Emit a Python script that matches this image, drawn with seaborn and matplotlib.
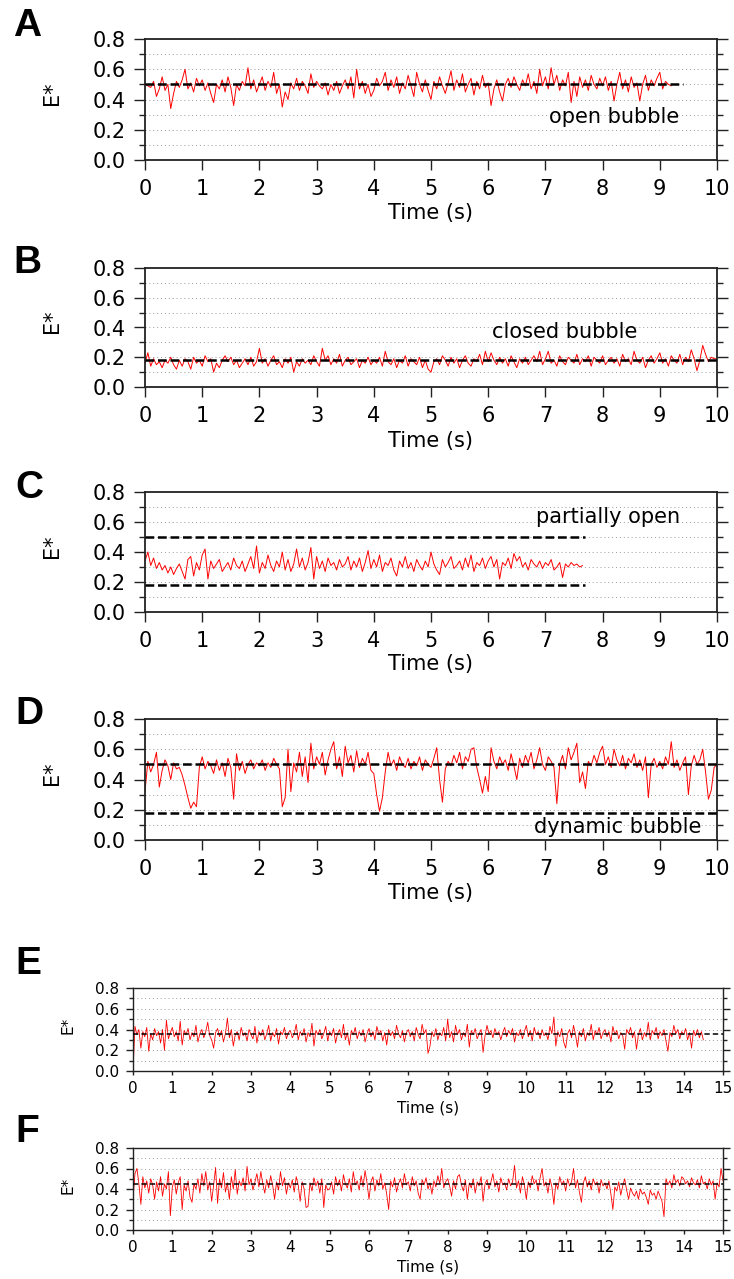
import matplotlib
matplotlib.use("Agg")
import matplotlib.pyplot as plt
import numpy as np
import seaborn as sns
from matplotlib.ticker import MultipleLocator

# sampling interval of every trace (s)
DT = 0.05

# FRET traces, E* values
trace_a = [
    0.50, 0.49, 0.48, 0.52, 0.42, 0.47, 0.55, 0.46, 0.50, 0.34, 0.44, 0.52, 0.48, 0.53, 0.60, 0.47, 0.51, 0.45, 0.54, 0.49,
    0.53, 0.46, 0.51, 0.44, 0.38, 0.50, 0.47, 0.53, 0.45, 0.55, 0.48, 0.36, 0.50, 0.46, 0.52, 0.49, 0.61, 0.47, 0.53, 0.45,
    0.50, 0.55, 0.46, 0.52, 0.48, 0.58, 0.44, 0.50, 0.35, 0.45, 0.40, 0.51, 0.47, 0.54, 0.46, 0.52, 0.49, 0.44, 0.57, 0.48,
    0.52, 0.49, 0.47, 0.51, 0.43, 0.50, 0.46, 0.52, 0.44, 0.49, 0.53, 0.47, 0.55, 0.41, 0.60, 0.47, 0.52, 0.44, 0.50, 0.42,
    0.46, 0.54, 0.49, 0.52, 0.58, 0.46, 0.53, 0.48, 0.55, 0.44, 0.51, 0.47, 0.56, 0.49, 0.42, 0.58, 0.50, 0.45, 0.53, 0.46,
    0.40, 0.52, 0.47, 0.55, 0.49, 0.44, 0.51, 0.59, 0.46, 0.53, 0.48, 0.57, 0.45, 0.50, 0.54, 0.43, 0.52, 0.47, 0.56, 0.48,
    0.51, 0.36, 0.47, 0.53, 0.45, 0.39, 0.50, 0.54, 0.48, 0.55, 0.50, 0.46, 0.53, 0.49, 0.57, 0.47, 0.52, 0.44, 0.60, 0.49,
    0.55, 0.47, 0.61, 0.50, 0.56, 0.46, 0.53, 0.49, 0.58, 0.38, 0.52, 0.42, 0.55, 0.48, 0.53, 0.46, 0.56, 0.50, 0.47, 0.54,
    0.49, 0.55, 0.46, 0.52, 0.39, 0.50, 0.58, 0.47, 0.53, 0.45, 0.55, 0.48, 0.51, 0.39, 0.50, 0.56, 0.46, 0.53, 0.49, 0.54,
    0.58, 0.47, 0.52, 0.50, 0.49,
]

trace_b = [
    0.16, 0.23, 0.14, 0.19, 0.15, 0.17, 0.13, 0.18, 0.16, 0.20, 0.15, 0.12, 0.18, 0.14, 0.19, 0.17, 0.12, 0.20, 0.16, 0.18,
    0.14, 0.21, 0.17, 0.19, 0.10, 0.16, 0.13, 0.18, 0.21, 0.17, 0.20, 0.15, 0.18, 0.13, 0.16, 0.19, 0.15, 0.20, 0.14, 0.17,
    0.26, 0.16, 0.19, 0.14, 0.18, 0.21, 0.15, 0.17, 0.13, 0.19, 0.16, 0.20, 0.10, 0.17, 0.14, 0.19, 0.16, 0.18, 0.15, 0.21,
    0.17, 0.14, 0.26, 0.18, 0.21, 0.15, 0.19, 0.16, 0.22, 0.14, 0.18, 0.20, 0.15, 0.17, 0.19, 0.13, 0.18, 0.16, 0.20, 0.15,
    0.18, 0.16, 0.20, 0.14, 0.24, 0.17, 0.15, 0.19, 0.13, 0.18, 0.16, 0.21, 0.14, 0.19, 0.17, 0.15, 0.20, 0.13, 0.18, 0.12,
    0.10, 0.17, 0.19, 0.15, 0.21, 0.18, 0.14, 0.20, 0.16, 0.19, 0.13, 0.18, 0.21, 0.16, 0.14, 0.19, 0.17, 0.22, 0.15, 0.24,
    0.17, 0.23, 0.18, 0.15, 0.20, 0.16, 0.19, 0.14, 0.21, 0.17, 0.13, 0.19, 0.16, 0.20, 0.15, 0.18, 0.21, 0.17, 0.24, 0.15,
    0.19, 0.24, 0.16, 0.18, 0.14, 0.21, 0.17, 0.15, 0.20, 0.18, 0.16, 0.22, 0.15, 0.19, 0.17, 0.21, 0.14, 0.20, 0.18, 0.16,
    0.21, 0.15, 0.18, 0.20, 0.16, 0.19, 0.14, 0.22, 0.17, 0.19, 0.15, 0.24, 0.18, 0.16, 0.20, 0.13, 0.18, 0.21, 0.16, 0.19,
    0.23, 0.16, 0.19, 0.14, 0.21, 0.18, 0.16, 0.22, 0.15, 0.20, 0.17, 0.25, 0.19, 0.11, 0.18, 0.28, 0.22, 0.17, 0.20, 0.19,
    0.19,
]

trace_c = [
    0.34, 0.40, 0.31, 0.36, 0.29, 0.33, 0.28, 0.31, 0.26, 0.30, 0.25, 0.29, 0.32, 0.27, 0.22, 0.35, 0.37, 0.24, 0.33, 0.28,
    0.38, 0.42, 0.22, 0.34, 0.29, 0.32, 0.35, 0.27, 0.30, 0.33, 0.28, 0.36, 0.31, 0.29, 0.34, 0.27, 0.32, 0.37, 0.29, 0.44,
    0.26, 0.33, 0.29, 0.38, 0.31, 0.27, 0.34, 0.30, 0.40, 0.28, 0.35, 0.27, 0.32, 0.42, 0.30, 0.36, 0.28, 0.33, 0.43, 0.22,
    0.37, 0.29, 0.34, 0.27, 0.36, 0.31, 0.33, 0.28, 0.35, 0.30, 0.32, 0.37, 0.28, 0.34, 0.30, 0.36, 0.27, 0.33, 0.41, 0.29,
    0.35, 0.30, 0.38, 0.27, 0.33, 0.31, 0.36, 0.28, 0.24, 0.34, 0.30, 0.37, 0.29, 0.33, 0.27, 0.35, 0.31, 0.28, 0.34, 0.30,
    0.40, 0.32, 0.28, 0.25, 0.35, 0.30, 0.33, 0.37, 0.29, 0.31, 0.34, 0.28, 0.36, 0.30, 0.38, 0.27, 0.33, 0.31, 0.36, 0.29,
    0.34, 0.37, 0.30, 0.35, 0.22, 0.33, 0.31, 0.36, 0.29, 0.39, 0.34, 0.37, 0.30, 0.33, 0.28, 0.35, 0.32, 0.30, 0.34, 0.29,
    0.33, 0.31, 0.35, 0.28, 0.30, 0.33, 0.23, 0.32, 0.30, 0.33, 0.31, 0.32, 0.30, 0.31,
]

trace_d = [
    0.32, 0.52, 0.45, 0.50, 0.58, 0.35, 0.46, 0.53, 0.49, 0.40, 0.51, 0.47, 0.48, 0.43, 0.36, 0.28, 0.21, 0.25, 0.22, 0.48,
    0.55, 0.47, 0.52, 0.49, 0.44, 0.53, 0.46, 0.51, 0.42, 0.54, 0.48, 0.27, 0.57, 0.46, 0.52, 0.44, 0.50, 0.53, 0.47, 0.51,
    0.49, 0.53, 0.46, 0.51, 0.48, 0.54, 0.50, 0.47, 0.22, 0.28, 0.60, 0.32, 0.51, 0.45, 0.58, 0.42, 0.55, 0.38, 0.64, 0.47,
    0.55, 0.50, 0.58, 0.43, 0.53, 0.60, 0.65, 0.47, 0.55, 0.42, 0.62, 0.51, 0.56, 0.45, 0.59, 0.48, 0.54, 0.50, 0.58, 0.46,
    0.44, 0.30, 0.19, 0.28, 0.45, 0.58, 0.49, 0.53, 0.46, 0.55, 0.50, 0.48, 0.54, 0.47, 0.52, 0.49, 0.55, 0.46, 0.53, 0.50,
    0.48, 0.54, 0.61, 0.40, 0.25, 0.47, 0.52, 0.49, 0.56, 0.51, 0.58, 0.47, 0.55, 0.52, 0.60, 0.61, 0.48, 0.40, 0.31, 0.42,
    0.32, 0.61, 0.52, 0.47, 0.55, 0.50, 0.53, 0.46, 0.57, 0.49, 0.40, 0.54, 0.48, 0.56, 0.51, 0.58, 0.47, 0.53, 0.61, 0.50,
    0.46, 0.55, 0.52, 0.48, 0.24, 0.50, 0.56, 0.47, 0.61, 0.53, 0.58, 0.64, 0.38, 0.45, 0.34, 0.52, 0.49, 0.56, 0.51, 0.58,
    0.62, 0.50, 0.55, 0.48, 0.60, 0.53, 0.49, 0.56, 0.47, 0.54, 0.51, 0.57, 0.48, 0.53, 0.46, 0.55, 0.28, 0.50, 0.54, 0.48,
    0.52, 0.47, 0.55, 0.50, 0.65, 0.48, 0.53, 0.46, 0.51, 0.55, 0.30, 0.49, 0.56, 0.50, 0.53, 0.60, 0.45, 0.27, 0.33, 0.48,
    0.50,
]

trace_e = [
    0.00, 0.43, 0.35, 0.40, 0.22, 0.38, 0.33, 0.42, 0.19, 0.36, 0.30, 0.41, 0.34, 0.38, 0.27, 0.40, 0.20, 0.49, 0.31, 0.37,
    0.42, 0.33, 0.38, 0.29, 0.48, 0.25, 0.39, 0.35, 0.41, 0.30, 0.37, 0.33, 0.44, 0.28, 0.36, 0.40, 0.32, 0.38, 0.47, 0.34,
    0.30, 0.22, 0.37, 0.41, 0.33, 0.39, 0.28, 0.36, 0.51, 0.32, 0.40, 0.24, 0.35, 0.38, 0.30, 0.42, 0.34, 0.37, 0.29, 0.40,
    0.35, 0.31, 0.43, 0.27, 0.38, 0.34, 0.40, 0.30, 0.36, 0.44, 0.29, 0.37, 0.33, 0.41, 0.26, 0.38, 0.35, 0.42, 0.31, 0.37,
    0.39, 0.32, 0.36, 0.45, 0.30, 0.38, 0.34, 0.41, 0.28, 0.37, 0.33, 0.46, 0.24, 0.39, 0.35, 0.40, 0.31, 0.36, 0.43, 0.29,
    0.38, 0.34, 0.41, 0.27, 0.36, 0.40, 0.32, 0.45, 0.30, 0.37, 0.25, 0.39, 0.35, 0.42, 0.31, 0.38, 0.34, 0.40, 0.28, 0.36,
    0.41, 0.33, 0.38, 0.30, 0.43, 0.35, 0.39, 0.29, 0.37, 0.25, 0.40, 0.34, 0.38, 0.31, 0.44, 0.36, 0.32, 0.39, 0.28, 0.37,
    0.40, 0.33, 0.38, 0.29, 0.42, 0.35, 0.31, 0.45, 0.36, 0.40, 0.17, 0.24, 0.38, 0.33, 0.41, 0.30, 0.37, 0.34, 0.42, 0.29,
    0.50, 0.32, 0.38, 0.28, 0.44, 0.35, 0.40, 0.30, 0.37, 0.33, 0.45, 0.23, 0.39, 0.35, 0.41, 0.31, 0.36, 0.40, 0.18, 0.34,
    0.44, 0.36, 0.39, 0.32, 0.41, 0.35, 0.38, 0.30, 0.37, 0.42, 0.33, 0.39, 0.35, 0.41, 0.28, 0.37, 0.34, 0.40, 0.31, 0.38,
    0.44, 0.33, 0.39, 0.29, 0.42, 0.35, 0.38, 0.31, 0.40, 0.34, 0.37, 0.30, 0.43, 0.36, 0.52, 0.24, 0.38, 0.33, 0.41, 0.28,
    0.22, 0.36, 0.40, 0.32, 0.44, 0.35, 0.23, 0.38, 0.33, 0.41, 0.29, 0.37, 0.34, 0.45, 0.30, 0.39, 0.35, 0.42, 0.31, 0.37,
    0.40, 0.33, 0.38, 0.28, 0.43, 0.35, 0.39, 0.31, 0.37, 0.34, 0.21, 0.40, 0.36, 0.42, 0.32, 0.38, 0.21, 0.35, 0.41, 0.30,
    0.37, 0.33, 0.47, 0.30, 0.39, 0.35, 0.42, 0.31, 0.38, 0.34, 0.40, 0.29, 0.19, 0.37, 0.33, 0.44, 0.36, 0.40, 0.31, 0.38,
    0.35, 0.41, 0.30, 0.37, 0.22, 0.39, 0.34, 0.40, 0.32, 0.38, 0.30,
]

trace_f = [
    0.30, 0.55, 0.60, 0.45, 0.25, 0.52, 0.41, 0.48, 0.36, 0.50, 0.44, 0.30, 0.47, 0.38, 0.52, 0.33, 0.45, 0.40, 0.57, 0.14,
    0.42, 0.49, 0.35, 0.46, 0.52, 0.20, 0.44, 0.38, 0.48, 0.32, 0.27, 0.45, 0.40, 0.50, 0.36, 0.55, 0.43, 0.57, 0.39, 0.47,
    0.28, 0.44, 0.61, 0.26, 0.50, 0.41, 0.56, 0.37, 0.46, 0.30, 0.52, 0.40, 0.59, 0.35, 0.48, 0.43, 0.51, 0.38, 0.62, 0.44,
    0.50, 0.39, 0.47, 0.55, 0.42, 0.57, 0.45, 0.36, 0.49, 0.41, 0.53, 0.44, 0.30, 0.47, 0.39, 0.57, 0.43, 0.51, 0.35, 0.46,
    0.41, 0.49, 0.37, 0.52, 0.44, 0.28, 0.47, 0.40, 0.22, 0.23, 0.46, 0.38, 0.51, 0.43, 0.48, 0.36, 0.50, 0.22, 0.44, 0.39,
    0.40, 0.47, 0.35, 0.52, 0.43, 0.49, 0.38, 0.54, 0.45, 0.41, 0.50, 0.37, 0.57, 0.44, 0.48, 0.39, 0.53, 0.42, 0.58, 0.46,
    0.30, 0.47, 0.52, 0.38, 0.49, 0.43, 0.55, 0.40, 0.46, 0.35, 0.20, 0.48, 0.42, 0.51, 0.37, 0.45, 0.50, 0.41, 0.55, 0.44,
    0.47, 0.38, 0.52, 0.43, 0.48, 0.36, 0.30, 0.49, 0.44, 0.51, 0.40, 0.46, 0.35, 0.48, 0.42, 0.53, 0.45, 0.60, 0.41, 0.47,
    0.50, 0.43, 0.33, 0.48, 0.40, 0.52, 0.54, 0.44, 0.38, 0.49, 0.30, 0.46, 0.41, 0.50, 0.36, 0.47, 0.43, 0.52, 0.28, 0.45,
    0.49, 0.40, 0.47, 0.55, 0.42, 0.48, 0.37, 0.51, 0.44, 0.46, 0.39, 0.50, 0.43, 0.47, 0.63, 0.41, 0.48, 0.36, 0.52, 0.44,
    0.30, 0.47, 0.41, 0.53, 0.45, 0.49, 0.38, 0.51, 0.60, 0.43, 0.47, 0.36, 0.50, 0.42, 0.25, 0.46, 0.40, 0.52, 0.44, 0.48,
    0.38, 0.50, 0.43, 0.47, 0.60, 0.41, 0.49, 0.37, 0.27, 0.46, 0.52, 0.42, 0.48, 0.39, 0.50, 0.44, 0.47, 0.36, 0.49, 0.43,
    0.46, 0.40, 0.48, 0.35, 0.20, 0.42, 0.38, 0.47, 0.34, 0.43, 0.50, 0.39, 0.30, 0.41, 0.36, 0.33, 0.38, 0.30, 0.40, 0.35,
    0.37, 0.32, 0.25, 0.39, 0.34, 0.36, 0.30, 0.38, 0.33, 0.28, 0.13, 0.50, 0.44, 0.48, 0.41, 0.54, 0.46, 0.49, 0.43, 0.52,
    0.50, 0.45, 0.48, 0.42, 0.51, 0.46, 0.44, 0.49, 0.41, 0.53, 0.45, 0.47, 0.40, 0.50, 0.44, 0.48, 0.30, 0.46, 0.42, 0.60,
    0.48,
]

# dashed reference levels and the time where each dashed line stops
levels_a, level_end_a = [0.50], 9.4
levels_b, level_end_b = [0.18], 10.0
levels_c, level_end_c = [0.50, 0.18], 7.7
levels_d, level_end_d = [0.50, 0.18], 10.0
levels_e, level_end_e = [0.36], 15.0
levels_f, level_end_f = [0.45], 15.0

state_labels = ["open bubble", "closed bubble", "partially open", "dynamic bubble"]
panel_letters = ["A", "B", "C", "D", "E", "F"]

W, H = 734, 1279
TEXT_FONT = ["DejaVu Sans"]


def px_rect(left, top, right, bottom):
    return [left / W, 1 - bottom / H, (right - left) / W, (bottom - top) / H]


def style_axis(ax, xmax, small):
    fs = 11 if small else 15
    ax.set_xlim(0, xmax)
    ax.set_ylim(0, 0.8)
    ax.xaxis.set_major_locator(MultipleLocator(1))
    ax.yaxis.set_minor_locator(MultipleLocator(0.1))
    ax.set_yticks([0.0, 0.2, 0.4, 0.6, 0.8])
    ax.set_yticklabels(["0.0", "0.2", "0.4", "0.6", "0.8"])
    ax.yaxis.grid(True, which="both", linestyle=(0, (1, 3)), color="#9a9a9a", linewidth=0.7)
    ax.set_axisbelow(True)
    for side in ["left", "right", "top", "bottom"]:
        ax.spines[side].set_visible(True)
        ax.spines[side].set_color("#222222")
        ax.spines[side].set_linewidth(1.0 if small else 1.3)
    major_len = 5 if small else 8
    ax.tick_params(axis="y", which="major", direction="out", left=True, right=True,
                   length=major_len, width=1.0, color="#222222", labelsize=fs,
                   labelcolor="black", pad=5 if small else 6)
    ax.tick_params(axis="y", which="minor", direction="out", left=True, right=True,
                   length=major_len * 0.55, width=1.0, color="#222222")
    ax.tick_params(axis="x", which="major", direction="out", bottom=True,
                   length=3 if small else 7.5, width=1.0, color="#222222", labelsize=fs,
                   labelcolor="black", pad=4 if small else 6.5)
    for lab in ax.get_xticklabels() + ax.get_yticklabels():
        lab.set_family(TEXT_FONT)


def draw_panel(rect, trace, levels, level_end, xmax, small, ylabel_xy, xlabel_y):
    ax = fig.add_axes(px_rect(*rect))
    time = np.arange(len(trace)) * DT
    sns.lineplot(x=time, y=trace, ax=ax, color="#ff0000", linewidth=0.6 if small else 0.7, sort=False)
    ax.hlines(levels, 0, level_end, colors="black",
              linestyles=[(0, (3.5, 2.0))] if small else [(0, (3.5, 1.5))],
              linewidth=1.1 if small else 1.8, zorder=3)
    style_axis(ax, xmax, small)
    fs = 11 if small else 15
    ax.set_ylabel("E*", fontsize=fs if small else 15, family=TEXT_FONT, color="black")
    ax.yaxis.set_label_coords(ylabel_xy, 0.55)
    ax.yaxis.label.set_verticalalignment("center")
    ax.set_xlabel("Time (s)", fontsize=fs, family=TEXT_FONT, color="black")
    ax.xaxis.set_label_coords(0.5, xlabel_y)
    ax.xaxis.label.set_verticalalignment("center")
    return ax


sns.set_theme(style="ticks")
plt.rcParams["font.family"] = ["Liberation Sans", "DejaVu Sans"]
plt.rcParams["text.color"] = "black"

fig = plt.figure(figsize=(W / 100, H / 100), dpi=100)

ax_a = draw_panel((145, 39, 717, 160), trace_a, levels_a, level_end_a, 10, False, -0.163, -0.435)
ax_b = draw_panel((145, 268, 717, 387), trace_b, levels_b, level_end_b, 10, False, -0.163, -0.45)
ax_c = draw_panel((145, 492, 717, 612), trace_c, levels_c, level_end_c, 10, False, -0.163, -0.43)
ax_d = draw_panel((145, 719, 717, 840), trace_d, levels_d, level_end_d, 10, False, -0.163, -0.44)
ax_e = draw_panel((133, 988, 723, 1071), trace_e, levels_e, level_end_e, 15, True, -0.11, -0.446)
ax_f = draw_panel((133, 1148, 723, 1230), trace_f, levels_f, level_end_f, 15, True, -0.11, -0.447)

ax_a.text(8.2, 0.285, state_labels[0], fontsize=15, family=TEXT_FONT, ha="center", va="center")
ax_b.text(7.33, 0.37, state_labels[1], fontsize=15, family=TEXT_FONT, ha="center", va="center")
ax_c.text(8.09, 0.633, state_labels[2], fontsize=15, family=TEXT_FONT, ha="center", va="center")
ax_d.text(8.27, 0.088, state_labels[3], fontsize=15, family=TEXT_FONT, ha="center", va="center")

letter_pos = [(13, 26), (13, 263), (15, 488), (15, 714), (15, 964), (15, 1132)]
for letter, (lx, ly) in zip(panel_letters, letter_pos):
    fig.text(lx / W, 1 - ly / H, letter, fontsize=28, fontweight="bold", ha="left", va="center")

fig.savefig("out.png", dpi=100)
